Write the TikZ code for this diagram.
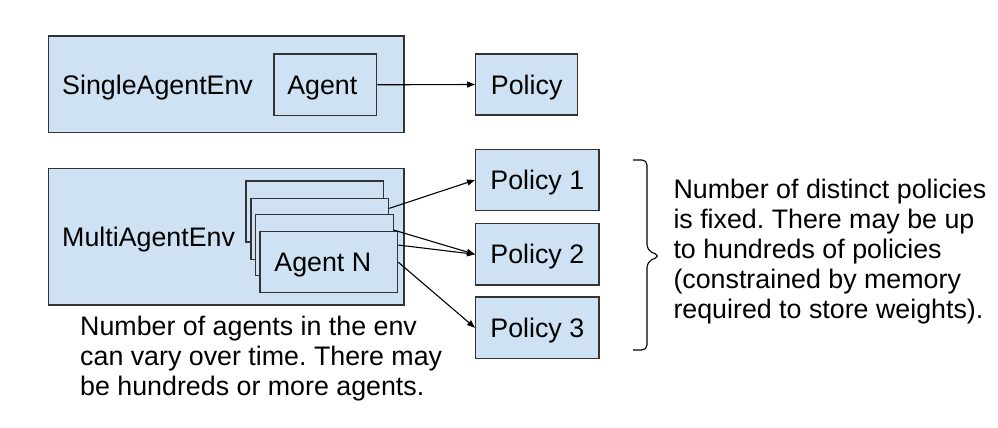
\documentclass[tikz,border=0pt]{standalone}
\usepackage{fontspec}
\setmainfont{Liberation Sans}
\usetikzlibrary{arrows.meta}
\definecolor{boxfill}{HTML}{CFE2F3}
\definecolor{boxline}{HTML}{333333}
\frenchspacing
\begin{document}
\begin{tikzpicture}[x=1pt,y=-1pt,
  every node/.style={font=\fontsize{26.8}{30}\selectfont},
  panel/.style={draw=boxline, fill=boxfill, line width=1.3pt, inner sep=0pt,
                text height=19.2pt, text depth=0pt},
  caption/.style={anchor=base west, inner sep=0pt},
  link/.style={line width=1.1pt, draw=black, -{Triangle[length=8pt,width=6pt]}},
  note/.style={anchor=north west, inner sep=0pt, align=left}]
\useasboundingbox[fill=white] (0,0) rectangle (998,428);

% single-agent environment
\node[panel, minimum width=355.7pt, minimum height=96.7pt] (senv) at (226.2,84.4) {};
\node[caption] (senvlabel) at (62,94.5) {SingleAgentEnv};
\node[panel, minimum width=102.7pt, minimum height=61.7pt] (agent) at (325.3,84.8) {\hspace*{-6pt}Agent};
\node[panel, minimum width=102pt, minimum height=61pt] (policy) at (526.7,84.5) {Policy};
\draw[link] (agent.east) -- (policy.west);

% multi-agent environment with a stack of agents
\node[panel, minimum width=355.7pt, minimum height=136.7pt] (menv) at (226.2,236.7) {};
\node[caption] (menvlabel) at (62,246.5) {MultiAgentEnv};
\tikzset{card/.style={panel, minimum width=137.7pt, minimum height=61pt}}
\node[card] (c1) at (314.8,211.5) {};
\node[card] (c2) at (319.8,228.8) {};
\node[card] (c3) at (324.5,244.8) {};
\node[card] (c4) at (328.8,262.2) {\hspace*{-12pt}Agent N};

% policies
\tikzset{pol/.style={panel, minimum width=123.3pt, minimum height=61.4pt}}
\node[pol] (p1) at (537.3,180) {Policy 1};
\node[pol] (p2) at (537.3,254.3) {Policy 2};
\node[pol] (p3) at (537.3,327.8) {Policy 3};

\draw[link] ([yshift=-10.7pt]c2.north east) -- (p1.west);
\draw[link] ([yshift=-16.5pt]c3.north east) -- (p2.west);
\draw[link] ([yshift=-14pt]c4.north east) -- (p2.west);
\draw[link] (c4.east) -- (p3.west);

% brace grouping the policies
\draw[line width=1.1pt, rounded corners=5pt]
  (633,160) -- (647,160) -- (647,250) -- (660,256) -- (647,262) -- (647,350) -- (633,350);

% notes
\node[note] (policynote) at (673.3,178.7) {Number of distinct policies\\is fixed. There may be up\\to hundreds of policies\\(constrained by memory\\required to store weights).};
\node[note] (agentnote) at (80,315.4) {Number of agents in the env\\can vary over time. There may\\be hundreds or more agents.};
\end{tikzpicture}
\end{document}
